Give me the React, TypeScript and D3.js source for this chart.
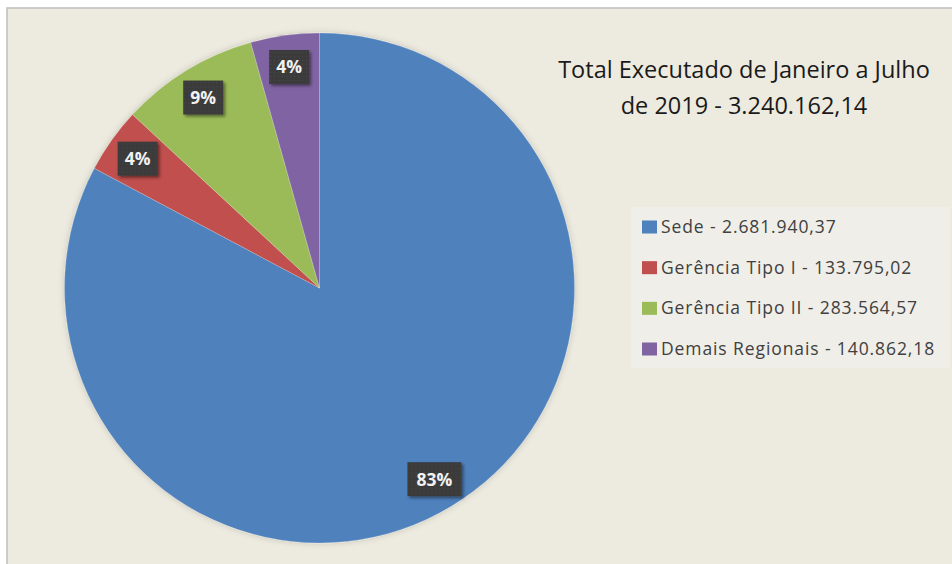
import React from 'react';
import * as d3 from 'd3';

const categories = ['Sede', 'Gerência Tipo I', 'Gerência Tipo II', 'Demais Regionais'];
const values = [2681940.37, 133795.02, 283564.57, 140862.18];
const valueLabels = ['2.681.940,37', '133.795,02', '283.564,57', '140.862,18'];
const colors = ['#4F81BD', '#C0504D', '#9BBB59', '#8064A2'];
const titleLines = ['Total Executado de Janeiro a Julho', 'de 2019 - 3.240.162,14'];

const W = 952;
const H = 564;

const App = () => {
  const cx = 319.5;
  const cy = 288;
  const radius = 255;
  const total = d3.sum(values);

  const pie = d3.pie<number>().sort(null).value((d) => d);
  const arcs = pie(values);
  const arc = d3.arc<d3.PieArcDatum<number>>().innerRadius(0).outerRadius(radius);
  const labelArc = d3.arc<d3.PieArcDatum<number>>().innerRadius(radius * 0.875).outerRadius(radius * 0.875);

  const legendY = d3.scalePoint<string>().domain(categories).range([227, 349]);

  return (
    <svg width={W} height={H} style={{ position: 'absolute', left: 0, top: 0 }}>
      <defs>
        <pattern id="dots" width="4" height="4" patternUnits="userSpaceOnUse">
          <rect width="4" height="4" fill="#3b3b3b" />
          <rect x="1" y="1" width="1" height="1" fill="#484848" />
        </pattern>
        <filter id="shadow" x="-20%" y="-20%" width="150%" height="150%">
          <feDropShadow dx="2" dy="2" stdDeviation="1.5" floodColor="#000" floodOpacity="0.45" />
        </filter>
        <filter id="pieGlow" x="-10%" y="-10%" width="120%" height="120%">
          <feDropShadow dx="0" dy="0" stdDeviation="3" floodColor="#000" floodOpacity="0.18" />
        </filter>
      </defs>
      <rect x={0} y={0} width={W} height={H} fill="#ffffff" />
      <rect x={7} y={8} width={W + 20} height={H + 20} fill="#EDEADF" stroke="#BFBFBF" strokeWidth={1.5} />

      <g transform={`translate(${cx},${cy})`} filter="url(#pieGlow)">
        {arcs.map((a, i) => (
          <path key={categories[i]} d={arc(a) || ''} fill={colors[i]} stroke="#ffffff" strokeOpacity={0.25} strokeWidth={0.8} />
        ))}
      </g>

      <g transform={`translate(${cx},${cy})`} fontFamily="'Open Sans', sans-serif" fontWeight="bold" fontSize={17.5}>
        {arcs.map((a, i) => {
          const [lx, ly] = labelArc.centroid(a);
          const txt = `${Math.round((values[i] / total) * 100)}%`;
          const bw = txt.length === 3 ? 54 : 40;
          const bh = 34;
          return (
            <g key={categories[i]} transform={`translate(${lx},${ly})`}>
              <rect x={-bw / 2} y={-bh / 2} width={bw} height={bh} fill="url(#dots)" filter="url(#shadow)" />
              <text textAnchor="middle" dy="0.36em" fill="#F2F2F2">{txt}</text>
            </g>
          );
        })}
      </g>

      <g fontFamily="'Open Sans', sans-serif" fontSize={23.5} fill="#1a1a1a" textAnchor="middle">
        {titleLines.map((t, i) => (
          <text key={t} x={744} y={78 + i * 36}>{t}</text>
        ))}
      </g>

      <rect x={631} y={207} width={319} height={161} fill="#EFEEE9" />
      <g fontFamily="'Open Sans', sans-serif" fontSize={17.5} fill="#404040" letterSpacing={0.9}>
        {categories.map((c, i) => (
          <g key={c} transform={`translate(642,${legendY(c)})`}>
            <rect x={0} y={-6.5} width={15} height={13} fill={colors[i]} />
            <text x={19} dy="0.35em">{`${c} - ${valueLabels[i]}`}</text>
          </g>
        ))}
      </g>
    </svg>
  );
};

export default App;
